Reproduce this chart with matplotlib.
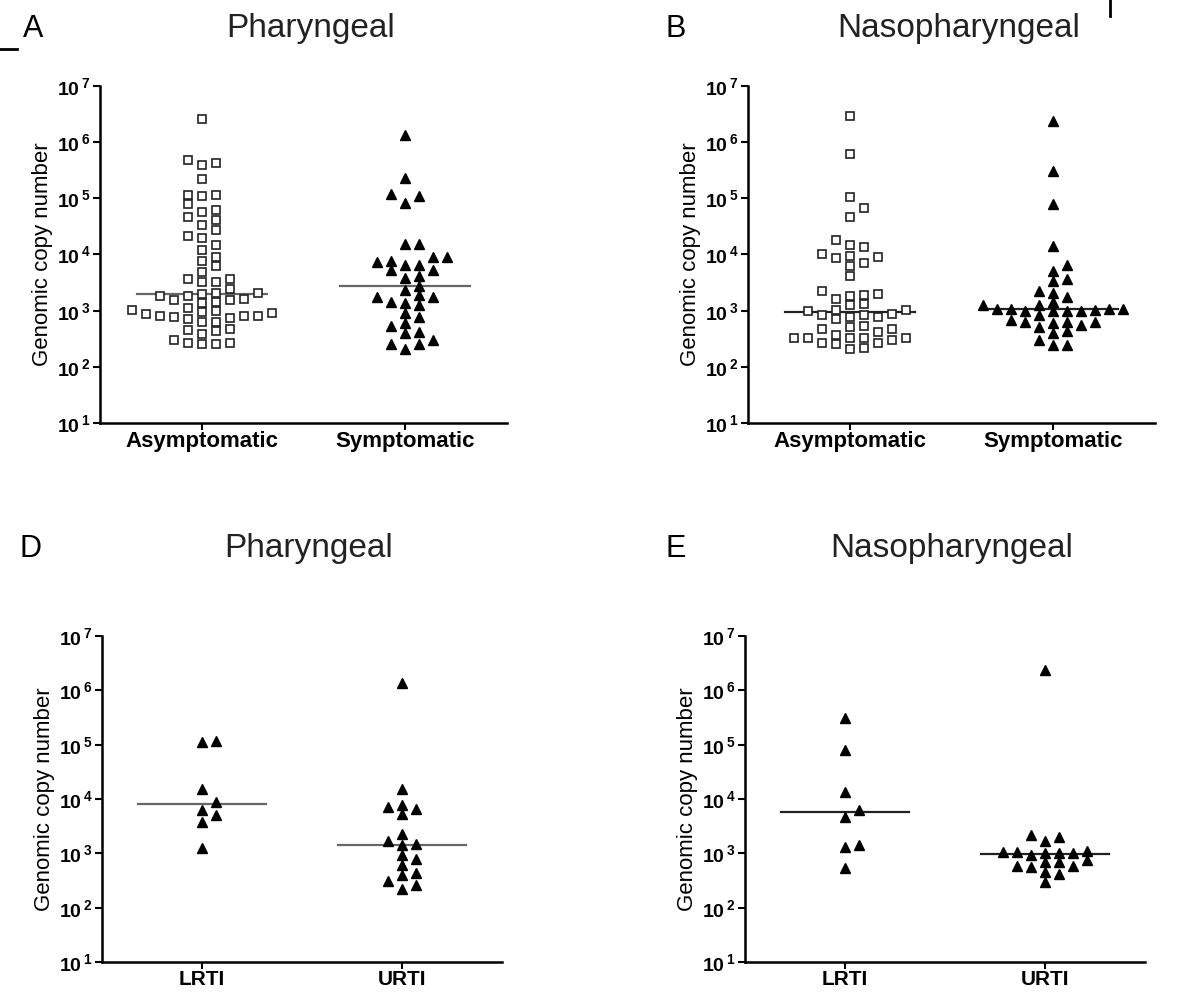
import numpy as np
import matplotlib
matplotlib.use("Agg")
import matplotlib.pyplot as plt
from matplotlib.lines import Line2D
from matplotlib.ticker import NullLocator

plt.rcParams['font.family'] = ['Liberation Sans', 'DejaVu Sans']
plt.rcParams['mathtext.fontset'] = 'custom'
plt.rcParams['mathtext.bf'] = 'Liberation Sans:bold'
plt.rcParams['mathtext.rm'] = 'Liberation Sans'

# genomic copy numbers
pharyngeal_asym = [2.6e6, 4.2e5, 4.0e5, 4.8e5, 2.2e5, 1.15e5, 1.08e5, 1.17e5, 8.0e4, 5.7e4,
                   6.2e4, 4.7e4, 4.1e4, 3.4e4, 2.75e4, 2.15e4, 2.0e4, 1.5e4, 1.2e4, 9.2e3,
                   7.8e3, 6.3e3, 4.8e3, 3.7e3, 3.3e3, 3.3e3, 3.6e3, 2.4e3, 1.85e3, 1.6e3,
                   1.52e3, 2.1e3, 2.0e3, 2.05e3, 1.44e3, 1.56e3, 1.8e3, 1.36e3, 1.01e3, 1.11e3,
                   970, 930, 870, 810, 640, 770, 710, 740, 790, 640,
                   810, 910, 450, 430, 470, 390, 296, 270, 260, 260, 270]
pharyngeal_symp = [1.35e6, 2.28e5, 1.2e5, 1.1e5, 8.4e4, 1.53e4, 1.53e4, 8.9e3, 7.5e3, 6.4e3,
                   6.4e3, 5.3e3, 7.8e3, 9.0e3, 5.2e3, 4.1e3, 3.8e3, 2.8e3, 2.3e3, 1.92e3,
                   1.75e3, 1.36e3, 1.24e3, 1.42e3, 1.75e3, 770, 910, 600, 540, 420,
                   400, 250, 210, 250, 300]
naso_asym = [2.97e6, 6.1e5, 1.05e5, 6.6e4, 4.7e4, 1.8e4, 1.45e4, 1.35e4, 1.03e4, 9.0e3,
             9.5e3, 8.6e3, 6.3e3, 7.2e3, 4.2e3, 2.2e3, 1.92e3, 1.6e3, 1.8e3, 1.97e3,
             1.24e3, 1.31e3, 1.04e3, 1.0e3, 1.04e3, 850, 770, 880, 710, 770,
             850, 510, 540, 470, 370, 410, 470, 330, 330, 330,
             330, 330, 270, 300, 250, 265, 210, 215]
naso_symp = [2.42e6, 3.08e5, 8.0e4, 1.39e4, 6.6e3, 5.0e3, 3.4e3, 3.65e3, 2.1e3, 2.26e3,
             1.75e3, 1.42e3, 1.24e3, 1.24e3, 1.02e3, 1.0e3, 980, 1.05e3, 1.05e3, 1.05e3,
             1.05e3, 1.0e3, 1.0e3, 850, 600, 560, 670, 640, 640, 620,
             520, 430, 400, 300, 240, 240]
pharyngeal_lrti = [1.1e5, 1.17e5, 1.56e4, 8.9e3, 6.2e3, 5.1e3, 3.8e3, 1.25e3]
pharyngeal_urti = [1.35e6, 1.5e4, 7.8e3, 6.5e3, 7.2e3, 5.3e3, 2.3e3, 1.5e3, 1.4e3, 1.66e3,
                   780, 920, 610, 430, 400, 310, 220, 260]
naso_lrti = [3.1e5, 7.9e4, 1.35e4, 6.3e3, 4.75e3, 1.42e3, 1.32e3, 530]
naso_urti = [2.38e6, 2.04e3, 2.2e3, 1.7e3, 1.12e3, 1.01e3, 1.01e3, 1.01e3, 1.04e3, 1.07e3,
             930, 750, 680, 680, 590, 570, 590, 450, 410, 300]

# medians (horizontal lines)
med_a = [1.95e3, 2.75e3]
med_b = [930, 1.05e3]
med_d = [8.0e3, 1.44e3]
med_e = [5.8e3, 970]

labels_top = ['Asymptomatic', 'Symptomatic']
labels_bottom = ['LRTI', 'URTI']

W, H = 1178, 993
fig = plt.figure(figsize=(W / 100, H / 100), dpi=100)


def add_axes(x0, x1, ytop, ybot):
    return fig.add_axes([x0 / W, 1 - ybot / H, (x1 - x0) / W, (ybot - ytop) / H])


def swarm(values, w_px, h_px, step=14, dy=9):
    logv = np.log10(values)
    ypx = (logv - 1) / 6 * h_px
    offs = np.zeros(len(values))
    placed = []
    cands = [0] + [s * k for k in range(1, 15) for s in (1, -1)]
    for i in np.argsort(logv):
        for k in cands:
            xp = k * step
            if all(not (abs(xp - px) < step * 0.9 and abs(ypx[i] - py) < dy) for px, py in placed):
                break
        placed.append((xp, ypx[i]))
        offs[i] = xp / (w_px / 2.0)
    return offs


def panel(box, groups, markers, medians, xlabels, line_color, label_size=16):
    x0, x1, ytop, ybot = box
    ax = add_axes(x0, x1, ytop, ybot)
    for i, (vals, mk, med) in enumerate(zip(groups, markers, medians)):
        vals = np.array(vals)
        offs = swarm(vals, x1 - x0, ybot - ytop)
        if mk == 's':
            ax.plot(i + 1 + offs, vals, 's', ms=5.2, mfc='white', mec='#222222',
                    mew=1.2, ls='none', zorder=3)
        else:
            ax.plot(i + 1 + offs, vals, '^', ms=6.5, color='black', ls='none', zorder=3)
        ax.plot([i + 1 - 0.32, i + 1 + 0.32], [med, med], color=line_color, lw=1.6, zorder=2)
    ax.set_yscale('log')
    ax.set_ylim(10, 1e7)
    ax.set_xlim(0.5, 2.5)
    ax.set_yticks([10.0 ** k for k in range(1, 8)])
    ax.yaxis.set_minor_locator(NullLocator())
    ax.set_yticklabels([r'$\mathbf{10^{\,%d}}$' % k for k in range(1, 8)], fontsize=14)
    ax.set_xticks([1, 2])
    ax.set_xticklabels(xlabels, fontsize=label_size, fontweight='bold')
    ax.tick_params(axis='both', direction='out', length=5, width=1.5, pad=2)
    ax.tick_params(axis='x', pad=1)
    ax.spines['top'].set_visible(False)
    ax.spines['right'].set_visible(False)
    ax.spines['left'].set_linewidth(1.8)
    ax.spines['bottom'].set_linewidth(1.8)
    ax.set_ylabel('Genomic copy number', fontsize=16, labelpad=3)
    return ax


boxes = {
    'A': (100, 507, 86, 423),
    'B': (748, 1155, 86, 423),
    'D': (102, 502, 636, 962),
    'E': (745, 1145, 636, 962),
}

panel(boxes['A'], [pharyngeal_asym, pharyngeal_symp], ['s', '^'], med_a, labels_top, '#666666')
panel(boxes['B'], [naso_asym, naso_symp], ['s', '^'], med_b, labels_top, '#222222')
panel(boxes['D'], [pharyngeal_lrti, pharyngeal_urti], ['^', '^'], med_d, labels_bottom, '#666666', 15)
panel(boxes['E'], [naso_lrti, naso_urti], ['^', '^'], med_e, labels_bottom, '#222222', 15)

titles = {'A': 'Pharyngeal', 'B': 'Nasopharyngeal', 'D': 'Pharyngeal', 'E': 'Nasopharyngeal'}
letter_x = {'A': 23, 'B': 665, 'D': 20, 'E': 665}
baseline = {'A': 37, 'B': 37, 'D': 557, 'E': 557}
for key, (x0, x1, ytop, ybot) in boxes.items():
    fig.text(letter_x[key] / W, 1 - baseline[key] / H, key, fontsize=22, va='baseline', ha='left')
    fig.text((x0 + x1) / 2 / W + 0.006, 1 - baseline[key] / H, titles[key], fontsize=24,
             va='baseline', ha='center', color='#222222')

# small crop marks left over from the source figure
fig.add_artist(Line2D([0, 17 / W], [1 - 49 / H, 1 - 49 / H], color='black', lw=2))
fig.add_artist(Line2D([1110 / W, 1110 / W], [1, 1 - 16 / H], color='black', lw=2))

fig.savefig('out.png', dpi=100)
